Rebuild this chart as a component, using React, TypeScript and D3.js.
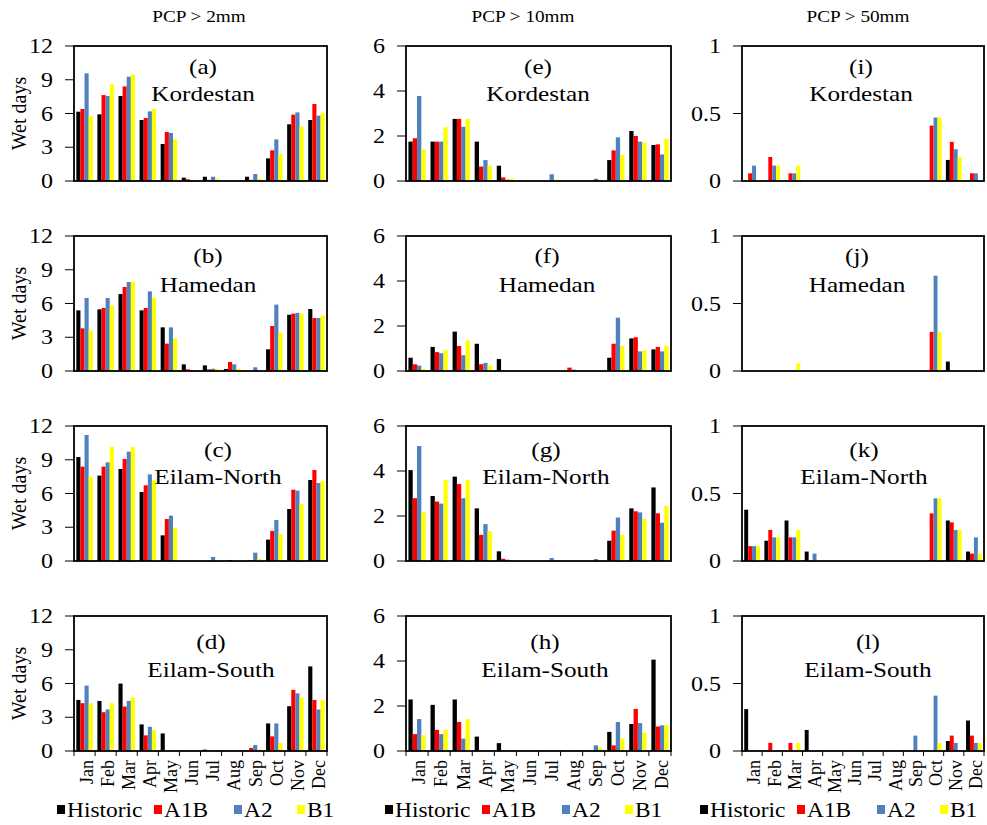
import React from 'react';
import * as d3 from 'd3';

const months = ['Jan', 'Feb', 'Mar', 'Apr', 'May', 'Jun', 'Jul', 'Aug', 'Sep', 'Oct', 'Nov', 'Dec'];
const seriesNames = ['Historic', 'A1B', 'A2', 'B1'];
const seriesColors = ['#000000', '#FF0000', '#4F81BD', '#FFFF00'];
const regions = ['Kordestan', 'Hamedan', 'Eilam-North', 'Eilam-South'];
const thresholds = ['PCP > 2mm', 'PCP > 10mm', 'PCP > 50mm'];
const panelLetters = [['a', 'b', 'c', 'd'], ['e', 'f', 'g', 'h'], ['i', 'j', 'k', 'l']];
const yMaxes = [12, 6, 1];
const yTicks2mm = [0, 3, 6, 9, 12];
const yTicks10mm = [0, 2, 4, 6];
const yTicks50mm = [0, 0.5, 1];

// each panel: [Historic, A1B, A2, B1], 12 months
const panelA = [
  [6.16, 5.93, 7.56, 5.42, 3.29, 0.3, 0.38, 0, 0.38, 2.01, 5.04, 5.42],
  [6.4, 7.64, 8.41, 5.6, 4.36, 0.15, 0.1, 0, 0.1, 2.73, 5.9, 6.84],
  [9.57, 7.56, 9.27, 6.19, 4.27, 0.09, 0.38, 0, 0.62, 3.7, 6.1, 5.81],
  [5.78, 8.59, 9.48, 6.4, 3.7, 0.09, 0.2, 0, 0.2, 2.4, 4.83, 6.07],
];
const panelB = [
  [5.39, 5.48, 6.84, 5.39, 3.88, 0.59, 0.5, 0.18, 0, 1.93, 5.0, 5.51],
  [3.79, 5.6, 7.47, 5.6, 2.43, 0.15, 0.15, 0.8, 0, 4.0, 5.1, 4.71],
  [6.49, 6.49, 7.91, 7.08, 3.88, 0.09, 0.2, 0.59, 0.33, 5.9, 5.16, 4.71],
  [3.59, 5.81, 7.91, 6.49, 2.9, 0, 0.2, 0.2, 0, 3.41, 5.1, 4.92],
];
const panelC = [
  [9.24, 7.59, 8.18, 6.13, 2.28, 0, 0, 0, 0, 1.9, 4.62, 7.2],
  [8.39, 8.39, 9.07, 6.73, 3.73, 0, 0, 0.09, 0.06, 2.67, 6.34, 8.09],
  [11.2, 8.77, 9.72, 7.7, 4.03, 0, 0.36, 0, 0.74, 3.64, 6.25, 6.93],
  [7.5, 10.13, 10.13, 7.17, 2.93, 0, 0.09, 0, 0.2, 2.4, 5.1, 7.11],
];
const panelD = [
  [4.54, 4.45, 5.99, 2.36, 1.56, 0, 0.12, 0, 0, 2.45, 3.98, 7.52],
  [4.25, 3.45, 3.95, 1.39, 0, 0, 0, 0, 0.27, 1.3, 5.43, 4.54],
  [5.81, 3.69, 4.45, 2.15, 0, 0, 0, 0, 0.53, 2.45, 5.13, 3.69],
  [4.25, 4.25, 4.75, 1.86, 0, 0, 0.09, 0, 0.12, 0.71, 4.75, 4.54],
];
const panelE = [
  [1.75, 1.75, 2.76, 1.75, 0.68, 0, 0, 0, 0, 0.93, 2.22, 1.6],
  [1.9, 1.75, 2.76, 0.64, 0.16, 0, 0, 0, 0, 1.36, 2.0, 1.63],
  [3.78, 1.75, 2.41, 0.93, 0.06, 0, 0.3, 0, 0.1, 1.94, 1.75, 1.18],
  [1.41, 2.39, 2.76, 0.68, 0.1, 0, 0.06, 0, 0.06, 1.16, 1.7, 1.88],
];
const panelF = [
  [0.59, 1.07, 1.75, 1.21, 0.53, 0, 0, 0, 0, 0.59, 1.45, 0.96],
  [0.3, 0.84, 1.11, 0.3, 0, 0, 0, 0.15, 0, 1.21, 1.5, 1.07],
  [0.24, 0.79, 0.7, 0.36, 0, 0, 0, 0.06, 0, 2.37, 0.87, 0.87],
  [0.1, 0.92, 1.36, 0.24, 0, 0, 0, 0, 0, 1.11, 0.92, 1.12],
];
const panelG = [
  [4.04, 2.89, 3.75, 2.34, 0.43, 0, 0, 0, 0, 0.9, 2.34, 3.27],
  [2.79, 2.64, 3.42, 1.16, 0.1, 0, 0, 0, 0, 1.35, 2.21, 2.12],
  [5.11, 2.55, 2.79, 1.64, 0.06, 0, 0.13, 0, 0.09, 1.93, 2.16, 1.7],
  [2.16, 3.6, 3.6, 1.33, 0.04, 0, 0.04, 0, 0.04, 1.16, 1.87, 2.45],
];
const panelH = [
  [2.29, 2.05, 2.29, 0.64, 0.35, 0, 0, 0, 0, 0.85, 1.2, 4.06],
  [0.75, 0.94, 1.29, 0, 0, 0, 0, 0, 0, 0.25, 1.87, 1.09],
  [1.42, 0.75, 0.55, 0, 0, 0, 0, 0, 0.25, 1.29, 1.24, 1.14],
  [0.7, 0.94, 1.42, 0, 0, 0, 0, 0, 0.15, 0.55, 0.81, 1.15],
];
const panelI = [
  [0, 0, 0, 0, 0, 0, 0, 0, 0, 0, 0.156, 0],
  [0.057, 0.178, 0.057, 0, 0, 0, 0, 0, 0, 0.41, 0.29, 0.057],
  [0.114, 0.114, 0.057, 0, 0, 0, 0, 0, 0, 0.47, 0.235, 0.057],
  [0, 0.114, 0.114, 0, 0, 0, 0, 0, 0, 0.47, 0.178, 0],
];
const panelJ = [
  [0, 0, 0, 0, 0, 0, 0, 0, 0, 0, 0.07, 0],
  [0, 0, 0, 0, 0, 0, 0, 0, 0, 0.29, 0, 0],
  [0, 0, 0, 0, 0, 0, 0, 0, 0, 0.706, 0, 0],
  [0, 0, 0.057, 0, 0, 0, 0, 0, 0, 0.29, 0, 0],
];
const panelK = [
  [0.38, 0.15, 0.3, 0.07, 0, 0, 0, 0, 0, 0, 0.3, 0.07],
  [0.11, 0.23, 0.175, 0, 0, 0, 0, 0, 0, 0.353, 0.286, 0.055],
  [0.11, 0.175, 0.175, 0.055, 0, 0, 0, 0, 0, 0.464, 0.23, 0.175],
  [0.11, 0.175, 0.23, 0, 0, 0, 0, 0, 0, 0.464, 0.23, 0.055],
];
const panelL = [
  [0.31, 0, 0, 0.156, 0, 0, 0, 0, 0, 0, 0.074, 0.226],
  [0, 0.06, 0.06, 0, 0, 0, 0, 0, 0, 0, 0.114, 0.114],
  [0, 0, 0, 0, 0, 0, 0, 0, 0.114, 0.41, 0.06, 0.06],
  [0, 0, 0.06, 0, 0, 0, 0, 0, 0, 0.06, 0, 0.06],
];

const panels = [
  [panelA, panelB, panelC, panelD],
  [panelE, panelF, panelG, panelH],
  [panelI, panelJ, panelK, panelL],
];
const yTicksByCol = [yTicks2mm, yTicks10mm, yTicks50mm];

// layout
const colX: [number, number][] = [[74, 327], [406, 671], [742, 984]];
const rowTop0 = 46;
const rowStep = 190;
const plotH = 135;
const titleCx = [199, 523, 858];
const labelCxOff = [[129, 134, 144, 137], [132, 141, 140, 139], [119, 115, 122, 126]];
const letterDy = [28, 27, 31, 33];
const nameDy = [55, 56, 58, 61];
const legendX = [57, 385, 700];
const legendOff = [0, 97, 177, 240];
const FONT = "'Liberation Serif', 'Times New Roman', serif";

const T = ({ x, y, sx = 1.2, anchor = 'middle', size = 20, children }: any) => (
  <text
    transform={`translate(${x},${y}) scale(${sx},1)`}
    textAnchor={anchor}
    fontSize={size}
    fontFamily={FONT}
    fill="#000"
  >
    {children}
  </text>
);

function Panel({ c, r }: { c: number; r: number }) {
  const [x0, x1] = colX[c];
  const top = rowTop0 + r * rowStep;
  const bottom = top + plotH;
  const data = panels[c][r];
  const x = d3.scaleBand<string>().domain(months).range([x0, x1]).paddingInner(0.22).paddingOuter(0.11);
  const xs = d3.scaleBand<string>().domain(seriesNames).range([0, x.bandwidth()]);
  const y = d3.scaleLinear().domain([0, yMaxes[c]]).range([bottom, top]);
  const step = (x1 - x0) / months.length;
  const ticks = yTicksByCol[c];
  const isBottom = r === 3;
  const cx = x0 + labelCxOff[c][r];
  return (
    <g>
      {seriesNames.map((s, si) =>
        months.map((m, mi) => {
          const v = data[si][mi];
          if (!v) return null;
          return (
            <rect
              key={s + m}
              x={(x(m) as number) + (xs(s) as number)}
              y={y(v)}
              width={xs.bandwidth()}
              height={bottom - y(v)}
              fill={seriesColors[si]}
            />
          );
        })
      )}
      <rect x={x0} y={top} width={x1 - x0} height={plotH} fill="none" stroke="#000" strokeWidth={1.8} />
      {ticks.map((t) => (
        <g key={t}>
          <line x1={x0 - 9} x2={x0} y1={y(t)} y2={y(t)} stroke="#000" strokeWidth={1} />
          <g transform={`translate(0,7)`}>
            <T x={x0 - 21} y={y(t)} anchor="end" size={20} sx={1.2}>
              {t}
            </T>
          </g>
        </g>
      ))}
      {isBottom &&
        d3.range(months.length + 1).map((i) => (
          <line key={i} x1={x0 + i * step} x2={x0 + i * step} y1={bottom} y2={bottom + 5} stroke="#000" strokeWidth={1} />
        ))}
      {isBottom &&
        months.map((m) => {
          const mx = (x(m) as number) + x.bandwidth() / 2 + 2;
          return (
            <text
              key={m}
              transform={`translate(${mx},${bottom + 9}) rotate(-90)`}
              textAnchor="end"
              dy="0.35em"
              fontSize={18}
              fontFamily={FONT}
            >
              {m}
            </text>
          );
        })}
      <T x={cx} y={top + letterDy[r]} size={21} sx={1.2}>
        ({panelLetters[c][r]})
      </T>
      <T x={cx} y={top + nameDy[r]} size={21} sx={1.2}>
        {regions[r]}
      </T>
      {c === 0 && (
        <text
          transform={`translate(26,${(top + bottom) / 2}) rotate(-90)`}
          textAnchor="middle"
          fontSize={20}
          fontFamily={FONT}
        >
          Wet days
        </text>
      )}
    </g>
  );
}

export default function App() {
  return (
    <svg
      width={987}
      height={825}
      style={{ position: 'absolute', left: 0, top: 0, background: '#fff' }}
    >
      <rect x={0} y={0} width={987} height={825} fill="#fff" />
      {thresholds.map((t, c) => (
        <T key={t} x={titleCx[c]} y={22} size={16} sx={1.2}>
          {t}
        </T>
      ))}
      {[0, 1, 2].map((c) => [0, 1, 2, 3].map((r) => <Panel key={`${c}-${r}`} c={c} r={r} />))}
      {[0, 1, 2].map((c) =>
        seriesNames.map((s, si) => {
          const lx = legendX[c] + legendOff[si];
          return (
            <g key={`${c}-${s}`}>
              <rect x={lx} y={805} width={8} height={9} fill={seriesColors[si]} />
              <T x={lx + 10} y={817} anchor="start" size={20} sx={1.17}>
                {s}
              </T>
            </g>
          );
        })
      )}
    </svg>
  );
}
